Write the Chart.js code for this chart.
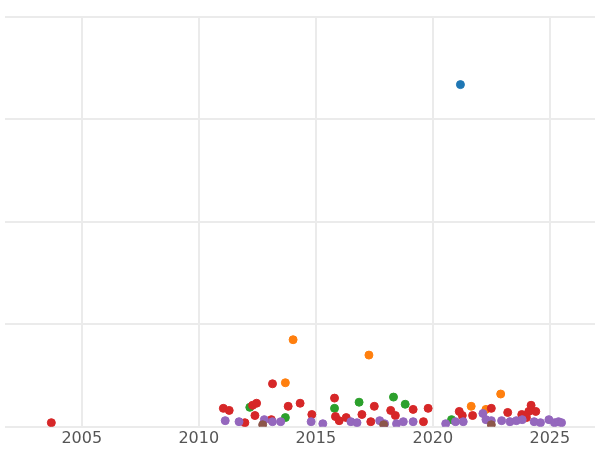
<!DOCTYPE html>
<html><head><meta charset="utf-8">
<script src="https://cdn.jsdelivr.net/npm/chart.js@4"></script>
<style>html,body{margin:0;background:#fff}#wrap{width:600px;height:450px}</style>
</head><body><div id="wrap"><canvas id="c"></canvas></div>
<script>
const blueYears = [2021.18];
const blueVals = [3.34];
const orangeYears = [2014.03, 2017.27, 2013.7, 2022.9, 2021.64, 2022.27];
const orangeVals = [0.85, 0.70, 0.43, 0.32, 0.20, 0.17];
const greenYears = [2012.18, 2013.7, 2015.8, 2016.85, 2018.32, 2018.82, 2020.8];
const greenVals = [0.19, 0.09, 0.18, 0.24, 0.29, 0.22, 0.07];
const redYears = [2003.7, 2011.05, 2011.3, 2011.97, 2012.3, 2012.47, 2012.4, 2013.15, 2013.1, 2013.82, 2014.33, 2014.83, 2015.8, 2015.84, 2016.0, 2016.3, 2016.97, 2017.35, 2017.5, 2018.2, 2018.4, 2019.16, 2019.6, 2019.8, 2021.13, 2021.26, 2021.7, 2022.5, 2023.2, 2023.8, 2024.1, 2024.2, 2024.4, 2024.0];
const redVals = [0.04, 0.18, 0.16, 0.04, 0.21, 0.23, 0.11, 0.42, 0.07, 0.20, 0.23, 0.12, 0.28, 0.10, 0.06, 0.09, 0.12, 0.05, 0.20, 0.16, 0.11, 0.17, 0.05, 0.18, 0.15, 0.11, 0.11, 0.18, 0.14, 0.12, 0.15, 0.21, 0.15, 0.09];
const purpleYears = [2011.13, 2011.72, 2012.8, 2013.15, 2013.5, 2014.8, 2015.3, 2016.5, 2016.76, 2017.73, 2017.94, 2018.45, 2018.74, 2019.16, 2020.55, 2020.97, 2021.3, 2022.14, 2022.27, 2022.5, 2022.94, 2023.3, 2023.57, 2023.82, 2024.33, 2024.6, 2024.96, 2025.2, 2025.37, 2025.5];
const purpleVals = [0.06, 0.05, 0.07, 0.05, 0.05, 0.05, 0.03, 0.05, 0.04, 0.06, 0.03, 0.03, 0.05, 0.05, 0.03, 0.05, 0.05, 0.13, 0.07, 0.06, 0.06, 0.05, 0.06, 0.07, 0.05, 0.04, 0.07, 0.04, 0.05, 0.04];
const brownYears = [2012.73, 2017.9, 2022.5];
const brownVals = [0.02, 0.02, 0.02];
const xTicks = [2005, 2010, 2015, 2020, 2025];

const pts = (xs, ys) => xs.map((x, i) => ({ x, y: ys[i] }));
const series = [
  [blueYears, blueVals, '#1f77b4'],
  [brownYears, brownVals, '#8c564b'],
  [purpleYears, purpleVals, '#9467bd'],
  [redYears, redVals, '#d62728'],
  [greenYears, greenVals, '#2ca02c'],
  [orangeYears, orangeVals, '#ff7f0e'],
];

new Chart(document.getElementById('c'), {
  type: 'scatter',
  data: {
    datasets: series.map(([xs, ys, col]) => ({
      data: pts(xs, ys),
      backgroundColor: col,
      borderColor: col,
      pointRadius: 4,
      pointHoverRadius: 4,
    })),
  },
  options: {
    responsive: true,
    maintainAspectRatio: false,
    animation: false,
    layout: { padding: { top: 17, left: -5, right: -5, bottom: 0 } },
    plugins: { legend: { display: false }, tooltip: { enabled: false } },
    scales: {
      x: {
        type: 'linear',
        min: 2001.72,
        max: 2026.93,
        afterBuildTicks: (axis) => { axis.ticks = xTicks.map((v) => ({ value: v })); },
        ticks: { color: '#555', font: { size: 16, family: 'DejaVu Sans' }, callback: (v) => String(v), padding: 2 },
        grid: { color: '#ebebeb', lineWidth: 2, drawTicks: false },
        border: { display: false },
      },
      y: {
        min: 0,
        max: 4,
        afterFit: (axis) => { axis.width = 0; },
        ticks: { display: false, stepSize: 1 },
        grid: { color: '#ebebeb', lineWidth: 2, drawTicks: false },
        border: { display: false },
      },
    },
  },
});
</script></body></html>
